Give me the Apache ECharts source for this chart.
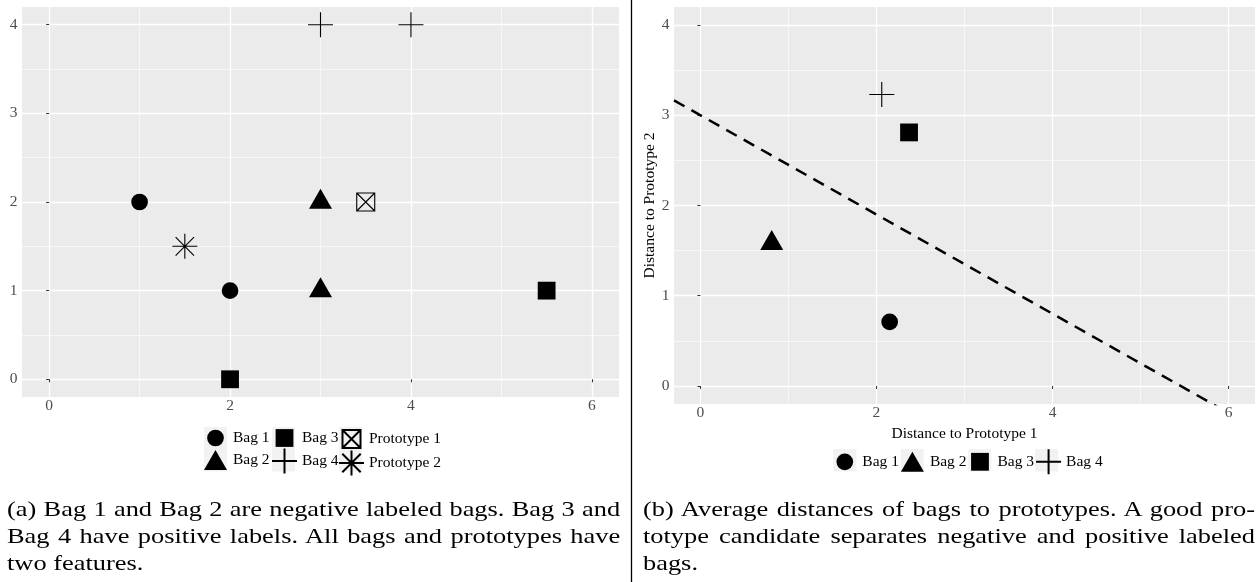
<!DOCTYPE html>
<html>
<head>
<meta charset="utf-8">
<script src="https://cdn.jsdelivr.net/npm/echarts@6/dist/echarts.min.js"></script>
<style>
html,body{margin:0;padding:0;background:#fff;}
#wrap{position:relative;width:1260px;height:582px;overflow:hidden;}
#chart{position:absolute;left:0;top:0;width:1260px;height:582px;}
.cap{position:absolute;top:495px;font-family:'Liberation Serif',serif;font-size:22px;line-height:27px;color:#000;
     transform:scaleX(1.2);transform-origin:0 0;}
.cap .j{text-align:justify;text-align-last:justify;white-space:normal;}
.cap .l{text-align:left;}
</style>
</head>
<body>
<div id="wrap">
  <div id="chart"></div>
  <div class="cap" style="left:7px;width:511px;">
    <div class="j">(a) Bag 1 and Bag 2 are negative labeled bags. Bag 3 and</div>
    <div class="j">Bag 4 have positive labels. All bags and prototypes have</div>
    <div class="l">two features.</div>
  </div>
  <div class="cap" style="left:643px;width:510px;">
    <div class="j">(b) Average distances of bags to prototypes. A good pro-</div>
    <div class="j">totype candidate separates negative and positive labeled</div>
    <div class="l">bags.</div>
  </div>
</div>
<script>
// ---------------- data ----------------
const xTicks = [0, 2, 4, 6];
const xMinorTicks = [1, 3, 5];
const yTicks = [0, 1, 2, 3, 4];
const yMinorTicks = [0.5, 1.5, 2.5, 3.5];
const xRange = [-0.3, 6.3];
const yRange = [-0.2, 4.2];

// panel (a): two features per instance
const bag1 = [[1, 2], [2, 1]];
const bag2 = [[3, 2], [3, 1]];
const bag3 = [[2, 0], [5.5, 1]];
const bag4 = [[3, 4], [4, 4]];
const prototype1 = [[3.5, 2]];
const prototype2 = [[1.5, 1.5]];

// panel (b): average distance to prototype 1 / prototype 2
const bag1Dist = [[2.15, 0.71]];
const bag2Dist = [[0.81, 1.58]];
const bag3Dist = [[2.37, 2.81]];
const bag4Dist = [[2.06, 3.23]];

// separating line in panel (b)
const boundaryIntercept = 3.0;
const boundarySlope = -0.55;

// ---------------- styling ----------------
const FONT = 'Liberation Serif';
const FS = 15.5;
// glyphs drawn in a 25x25 frame (corner moves keep the frame size)
const SYM = {
  circle: 'path://M0,0M25,25M4.15,12.5A8.35,8.35,0,1,1,20.85,12.5A8.35,8.35,0,1,1,4.15,12.5Z',
  triangle: 'path://M0,0M25,25M12.5,2.5L24,22.5L1,22.5Z',
  square: 'path://M0,0M25,25M3.6,3.6L21.4,3.6L21.4,21.4L3.6,21.4Z',
  plus: 'path://M0,12.5L25,12.5M12.5,0L12.5,25',
  boxx: 'path://M0,0M25,25M3.5,3.5L21.5,3.5L21.5,21.5L3.5,21.5ZM3.5,3.5L21.5,21.5M21.5,3.5L3.5,21.5',
  aster: 'path://M0,0M25,25M12.5,0L12.5,25M0,12.5L25,12.5M3.3,3.3L21.7,21.7M21.7,3.3L3.3,21.7'
};
const filled = {color: '#000', borderWidth: 0, opacity: 1};
const stroked = {color: 'transparent', borderColor: '#000', borderWidth: 1.1, opacity: 1};

function pts(name, data, sym, style, xi, yi, offset) {
  return {
    type: 'scatter', name: name, data: data, xAxisIndex: xi, yAxisIndex: yi,
    symbol: sym, symbolSize: 25, symbolOffset: offset || [0, 0],
    itemStyle: style, silent: true, z: 3
  };
}

function majorAxis(dim, gi, range, ticks) {
  return {
    type: 'value', gridIndex: gi, min: range[0], max: range[1],
    axisLine: {show: false},
    axisTick: {show: true, length: 3, customValues: ticks, lineStyle: {color: '#333', width: 1}},
    axisLabel: {show: true, customValues: ticks, color: '#4D4D4D', fontFamily: FONT, fontSize: FS,
                margin: dim === 'x' ? 1 : 4.5},
    splitLine: {show: true, lineStyle: {color: '#fff', width: 1.3}},
    minorTick: {show: false}, minorSplitLine: {show: false}
  };
}
function minorAxis(gi, range, ticks) {
  return {
    type: 'value', gridIndex: gi, min: range[0], max: range[1],
    axisLine: {show: false},
    axisTick: {show: false, customValues: ticks},
    axisLabel: {show: false},
    splitLine: {show: true, lineStyle: {color: '#fff', width: 0.6}}
  };
}

const xAxes = [majorAxis('x', 0, xRange, xTicks), minorAxis(0, xRange, xMinorTicks),
               majorAxis('x', 1, xRange, xTicks), minorAxis(1, xRange, xMinorTicks)];
const yAxes = [majorAxis('y', 0, yRange, yTicks), minorAxis(0, yRange, yMinorTicks),
               majorAxis('y', 1, yRange, yTicks), minorAxis(1, yRange, yMinorTicks)];
Object.assign(xAxes[2], {
  name: 'Distance to Prototype 1', nameLocation: 'middle', nameGap: 12.5,
  nameTextStyle: {fontFamily: FONT, fontSize: FS, color: '#000'}
});
Object.assign(yAxes[2], {
  name: 'Distance to Prototype 2', nameLocation: 'middle', nameGap: 10.5, nameRotate: 90,
  nameTextStyle: {fontFamily: FONT, fontSize: FS, color: '#000'}
});

const legendCommon = {
  selectedMode: false, padding: 0, itemWidth: 25, itemHeight: 25, z: 5,
  textStyle: {fontFamily: FONT, fontSize: FS, color: '#000'}
};

const keyBoxes = [];
[[204, 427], [204, 449], [272, 427], [272, 449], [339, 427], [339, 449],
 [833.3, 449], [900.7, 449], [968.3, 449], [1035, 449]].forEach(function (p) {
  keyBoxes.push({type: 'rect', z: 1, shape: {x: p[0], y: p[1], width: 23, height: 22.5},
                 style: {fill: '#F2F2F2'}});
});

const option = {
  animation: false,
  grid: [
    {left: 22, top: 7, width: 597, height: 390, show: true, backgroundColor: '#EBEBEB', borderWidth: 0},
    {left: 674, top: 7, width: 581, height: 397, show: true, backgroundColor: '#EBEBEB', borderWidth: 0}
  ],
  xAxis: xAxes,
  yAxis: yAxes,
  legend: [
    Object.assign({left: 203, top: 425.5, orient: 'vertical', itemGap: -3,
      data: [{name: 'Bag 1', icon: SYM.circle}, {name: 'Bag 2', icon: SYM.triangle}]}, legendCommon),
    Object.assign({left: 271, top: 425.5, orient: 'vertical', itemGap: -3,
      data: [{name: 'Bag 3', icon: SYM.square}, {name: 'Bag 4', icon: SYM.plus}]}, legendCommon),
    Object.assign({left: 338, top: 425.5, orient: 'vertical', itemGap: -3,
      data: [{name: 'Prototype 1', icon: SYM.boxx}, {name: 'Prototype 2', icon: SYM.aster}]}, legendCommon),
    Object.assign({left: 832.3, top: 448.3, orient: 'horizontal', itemGap: 1,
      data: [{name: 'Bag 1', icon: SYM.circle}, {name: 'Bag 2', icon: SYM.triangle},
             {name: 'Bag 3', icon: SYM.square}, {name: 'Bag 4', icon: SYM.plus}]}, legendCommon)
  ],
  graphic: keyBoxes.concat([
    {type: 'line', z: 1, shape: {x1: 631.5, y1: 0, x2: 631.5, y2: 582},
     style: {stroke: '#000', lineWidth: 1.3}}
  ]),
  series: [
    pts('Bag 1', bag1, SYM.circle, filled, 0, 0),
    pts('Bag 2', bag2, SYM.triangle, filled, 0, 0, [0, -3.3]),
    pts('Bag 3', bag3, SYM.square, filled, 0, 0),
    pts('Bag 4', bag4, SYM.plus, stroked, 0, 0),
    pts('Prototype 1', prototype1, SYM.boxx, stroked, 0, 0),
    pts('Prototype 2', prototype2, SYM.aster, stroked, 0, 0),
    {
      type: 'line', name: 'Boundary', xAxisIndex: 2, yAxisIndex: 2,
      data: xRange.map(function (x) { return [x, boundaryIntercept + boundarySlope * x]; }),
      symbol: 'none', showSymbol: false, clip: true, silent: true, z: 2,
      lineStyle: {color: '#000', width: 2.5, type: [12, 8]}
    },
    pts('Bag 1', bag1Dist, SYM.circle, filled, 2, 2),
    pts('Bag 2', bag2Dist, SYM.triangle, filled, 2, 2, [0, -3.3]),
    pts('Bag 3', bag3Dist, SYM.square, filled, 2, 2),
    pts('Bag 4', bag4Dist, SYM.plus, stroked, 2, 2)
  ]
};

const chart = echarts.init(document.getElementById('chart'), null, {renderer: 'canvas'});
chart.setOption(option);
</script>
</body>
</html>
